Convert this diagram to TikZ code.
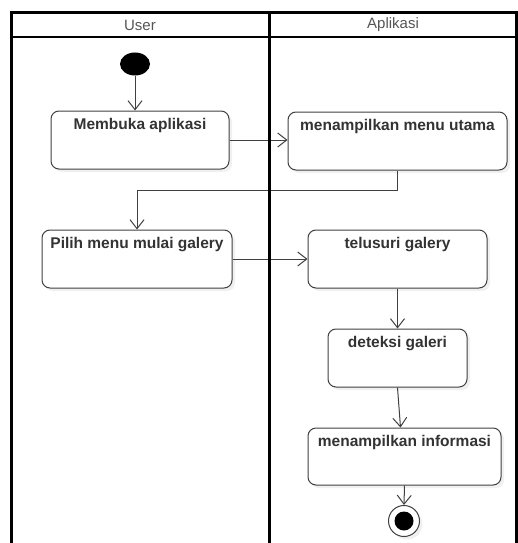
\documentclass[tikz,border=0pt]{standalone}
\usepackage{fontspec}
\setmainfont{Liberation Sans}
\usepackage{tikz}
\usetikzlibrary{positioning, arrows.meta, shapes.geometric, shadows}

\definecolor{boxline}{HTML}{404040}
\definecolor{boxtext}{HTML}{333333}
\definecolor{headtext}{HTML}{555555}

\begin{document}
\begin{tikzpicture}[
    x=1pt, y=-1pt,
    box/.style={rectangle, draw=boxline, line width=1pt, rounded corners=8pt,
                fill=white, minimum height=58pt,
                drop shadow={opacity=0.12, shadow xshift=3pt, shadow yshift=-3pt}},
    act/.style={font=\fontsize{15.5}{18}\selectfont\bfseries, text=boxtext, inner sep=0pt},
    arrow/.style={-{Straight Barb[length=9pt, width=14pt]}, line width=1pt, draw=boxline},
    lane/.style={line width=3pt, draw=black}
]
    \useasboundingbox (0,0) rectangle (517,543);

    % Lane titles
    \node[font=\fontsize{15}{18}\selectfont, text=headtext] (userHead) at (140,25) {User};
    \node[font=\fontsize{15}{18}\selectfont, text=headtext] (appHead) at (393,25) {Aplikasi};

    % Start
    \node[ellipse, fill=black, minimum width=30pt, minimum height=23pt, inner sep=0pt] (start) at (135,64) {};

    % User lane
    \node[box, minimum width=178pt, label={[act, anchor=north, yshift=-8pt]north:Membuka aplikasi}] (buka) at (140,140) {};
    \node[box, minimum width=190pt, label={[act, anchor=north, yshift=-8pt]north:Pilih menu mulai galery}] (pilih) at (137,259) {};

    % Aplikasi lane
    \node[box, minimum width=219pt, label={[act, anchor=north, yshift=-8pt]north:menampilkan menu utama}] (menu) at (397.5,141) {};
    \node[box, minimum width=179pt, label={[act, anchor=north, yshift=-8pt]north:telusuri galery}] (telusuri) at (397.5,259) {};
    \node[box, minimum width=139pt, label={[act, anchor=north, yshift=-8pt]north:deteksi galeri}] (deteksi) at (397.5,358) {};
    \node[box, minimum width=193pt, minimum height=57pt, label={[act, anchor=north, yshift=-8pt]north:menampilkan informasi}] (info) at (404.5,456.5) {};

    % End
    \node[circle, draw=boxline, line width=1pt, fill=white, minimum size=31pt, inner sep=0pt,
          drop shadow={opacity=0.12, shadow xshift=3pt, shadow yshift=-3pt}] (stop) at (404,521) {};
    \node[circle, fill=black, minimum size=19pt, inner sep=0pt] (stopDot) at (stop.center) {};

    % Arrows
    \draw[arrow] (start.south) -- (start.south |- buka.north);
    \draw[arrow] (buka.east) -- (buka.east -| menu.west);
    \draw[arrow] (menu.south) -- ++(0,20) -| (pilih.north);
    \draw[arrow] (pilih.east) -- (pilih.east -| telusuri.west);
    \draw[arrow] (telusuri.south) -- (deteksi.north);
    \draw[arrow] (deteksi.south) -- ([xshift=-4pt]info.north);
    \draw[arrow] (info.south) -- (stop.north);

    % Swimlanes
    \draw[lane] (11,550) -- (11,13) -- (516,13) -- (516,550);
    \draw[lane] (269,13) -- (269,550);
    \draw[line width=1.5pt] (11,37) -- (516,37);

\end{tikzpicture}
\end{document}
